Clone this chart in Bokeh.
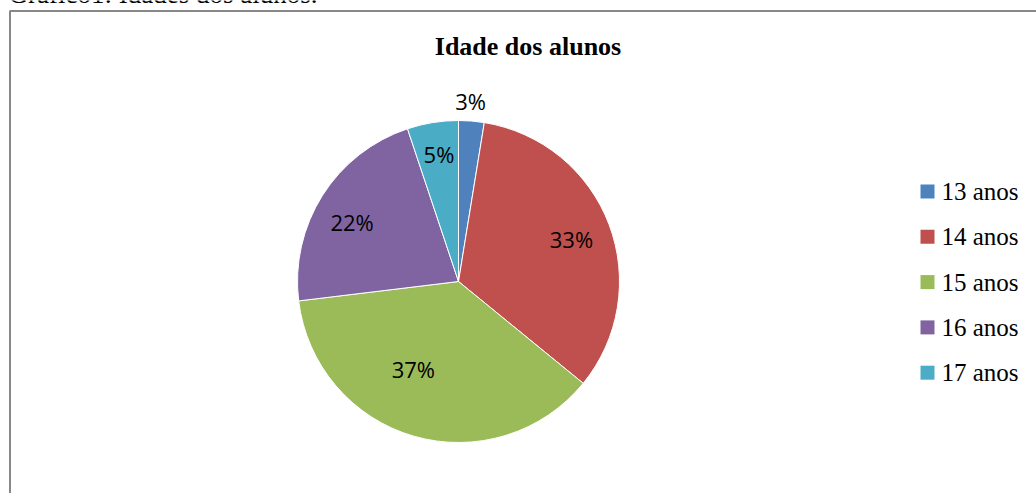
import math
from bokeh.plotting import figure
from bokeh.models import Range1d, ColumnDataSource
from bokeh.core.properties import value
from bokeh.embed import file_html
from bokeh.resources import INLINE

# ---- data ----
categories = ["13 anos", "14 anos", "15 anos", "16 anos", "17 anos"]
counts = [2, 26, 29, 17, 4]
colors = ["#4F81BD", "#C0504D", "#9BBB59", "#8064A2", "#4BACC6"]
title_text = "Idade dos alunos"
caption_text = "Gráfico1: Idades dos alunos."

# ---- layout constants (pixels, origin top-left of page) ----
W, H = 1036, 493
def Y(py):
    return H - py

cx, cy, R = 458, Y(281), 161
label_r = [1.125, 0.75, 0.61, 0.757, 0.80]
label_shift = [-0.8, 0.0, 11.2, -3.1, 0.5]

total = sum(counts)
fracs = [c / total for c in counts]
cum = [0.0]
for f in fracs:
    cum.append(cum[-1] + f)
start = [math.pi / 2 - 2 * math.pi * cum[i] for i in range(len(counts))]
end = [math.pi / 2 - 2 * math.pi * cum[i + 1] for i in range(len(counts))]
pct = [f"{round(f * 100):d}%" for f in fracs]

lx, ly = [], []
for i in range(len(counts)):
    mid_deg = (cum[i] + cum[i + 1]) / 2 * 360 + label_shift[i]
    a = math.radians(mid_deg)
    lx.append(cx + R * label_r[i] * math.sin(a))
    ly.append(cy + R * label_r[i] * math.cos(a))

src = ColumnDataSource(dict(cat=categories, start=start, end=end, color=colors,
                            pct=pct, lx=lx, ly=ly,
                            legx=[927] * len(counts),
                            legy=[Y(191 + 45.3 * i) for i in range(len(counts))],
                            legtx=[941] * len(counts)))

p = figure(width=W, height=H, x_range=Range1d(0, W), y_range=Range1d(0, H),
           output_backend="svg", toolbar_location=None, min_border=0,
           outline_line_color=None, background_fill_color="white")
p.xaxis.visible = False
p.yaxis.visible = False
p.grid.visible = False

# frame border
p.quad(left=[9.5], right=[1045], top=[Y(10.5)], bottom=[-20], fill_color=None,
       line_color="#888888", line_width=2)

# caption (partly cut off at top, as in the source document)
p.text(x=[8], y=[Y(-7)], text=[caption_text], text_font=value("Liberation Serif"),
       text_font_size="27px", text_baseline="alphabetic", text_align="left",
       text_color="black")

# title
p.text(x=[527.5], y=[Y(46)], text=[title_text], text_font=value("Liberation Serif"),
       text_font_size="26px", text_font_style="bold", text_baseline="middle",
       text_align="center", text_color="black")

# pie
p.wedge(x=cx, y=cy, radius=R, start_angle="start", end_angle="end",
        direction="clock", fill_color="color", line_color="white",
        line_width=1, source=src)

# labels
p.text(x="lx", y="ly", text="pct", source=src, text_font=value("Open Sans"),
       text_font_size="22px", text_align="center", text_baseline="middle",
       text_color="black")

# legend
p.scatter(x="legx", y="legy", marker="square", size=14, fill_color="color",
          line_color=None, source=src)
p.text(x="legtx", y="legy", text="cat", source=src,
       text_font=value("Liberation Serif"), text_font_size="25px",
       text_align="left", text_baseline="middle", text_color="black")

open("out.html", "w").write(file_html(p, INLINE))
